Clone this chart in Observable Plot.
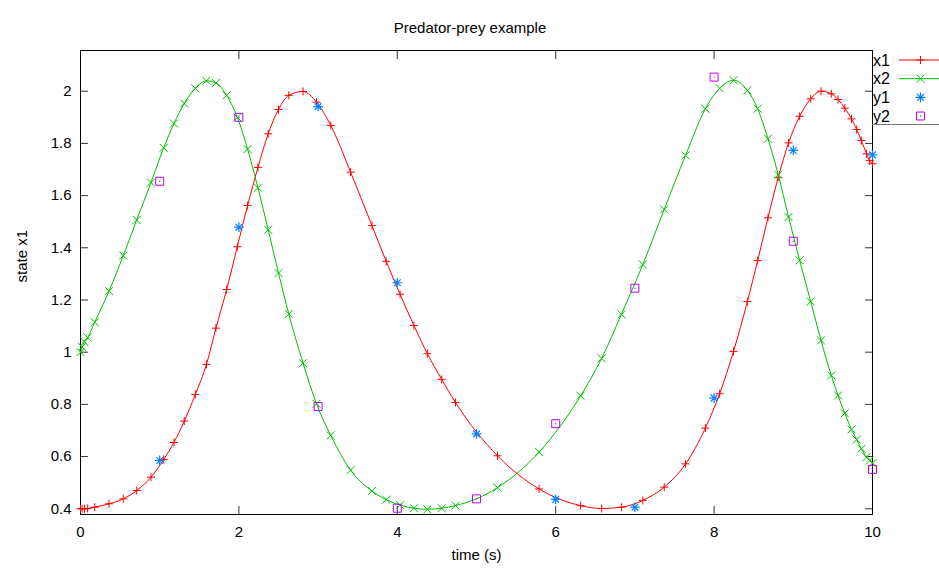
<!DOCTYPE html>
<html><head><meta charset="utf-8">
<script src="https://cdn.jsdelivr.net/npm/d3@7"></script>
<script src="https://cdn.jsdelivr.net/npm/@observablehq/plot@0.6"></script>
<style>
body{margin:0;background:#fff;}
#chart{position:relative;width:939px;height:568px;}
</style></head><body><div id="chart"></div>
<script>
const title = "Predator-prey example";
const xLabel = "time (s)";
const yLabel = "state x1";

const times = [0, 0.02, 0.05, 0.09, 0.18, 0.36, 0.54, 0.71, 0.89, 1.05, 1.18, 1.31, 1.45, 1.59, 1.71, 1.845, 1.98, 2.11, 2.24, 2.37, 2.50, 2.63, 2.81, 2.98, 3.16, 3.41, 3.68, 3.86, 4.035, 4.21, 4.38, 4.56, 4.735, 5.265, 5.79, 6.315, 6.58, 6.83, 7.10, 7.37, 7.64, 7.89, 8.07, 8.245, 8.42, 8.55, 8.68, 8.81, 8.94, 9.08, 9.22, 9.35, 9.48, 9.565, 9.65, 9.735, 9.80, 9.86, 9.925, 9.965, 10.0];
const x1 = [0.400, 0.400, 0.400, 0.401, 0.406, 0.419, 0.438, 0.470, 0.521, 0.589, 0.654, 0.736, 0.838, 0.953, 1.092, 1.240, 1.404, 1.562, 1.708, 1.837, 1.930, 1.984, 1.999, 1.958, 1.869, 1.690, 1.485, 1.348, 1.222, 1.102, 0.994, 0.896, 0.807, 0.603, 0.476, 0.412, 0.401, 0.406, 0.432, 0.483, 0.572, 0.709, 0.841, 1.003, 1.194, 1.351, 1.515, 1.670, 1.802, 1.904, 1.971, 2.000, 1.990, 1.968, 1.935, 1.894, 1.853, 1.811, 1.760, 1.734, 1.722];
const x2 = [1.000, 1.020, 1.040, 1.056, 1.115, 1.234, 1.370, 1.507, 1.650, 1.783, 1.876, 1.953, 2.011, 2.040, 2.032, 1.984, 1.900, 1.778, 1.630, 1.469, 1.303, 1.146, 0.958, 0.802, 0.681, 0.548, 0.468, 0.435, 0.414, 0.402, 0.398, 0.402, 0.412, 0.481, 0.617, 0.833, 0.976, 1.145, 1.336, 1.547, 1.754, 1.933, 2.011, 2.042, 2.003, 1.933, 1.818, 1.680, 1.518, 1.352, 1.194, 1.045, 0.911, 0.834, 0.766, 0.704, 0.665, 0.630, 0.598, 0.585, 0.575];

const obsTimes = [1, 2, 3, 4, 5, 6, 7, 8, 9, 10];
const y1 = [0.585, 1.479, 1.941, 1.266, 0.687, 0.436, 0.406, 0.824, 1.773, 1.756];
const y2 = [1.655, 1.900, 0.792, 0.402, 0.438, 0.726, 1.245, 2.054, 1.425, 0.551];

const xTicks = [0, 2, 4, 6, 8, 10];
const yTicks = [0.4, 0.6, 0.8, 1, 1.2, 1.4, 1.6, 1.8, 2];

const seriesNames = ["x1", "x2", "y1", "y2"];
const seriesColors = ["#ff0000", "#00c000", "#0080ff", "#c000ff"];

const lineData = times.map((t, i) => ({t, x1: x1[i], x2: x2[i]}));
const obsData = obsTimes.map((t, i) => ({t, y1: y1[i], y2: y2[i]}));

const R_PLUS = 2.7, R_TIMES = 3.7, R_SQUARE = 4.5;
const tickColor = "#333";

const plot = Plot.plot({
  width: 939, height: 568,
  marginLeft: 80, marginRight: 67, marginTop: 50, marginBottom: 54,
  style: {fontFamily: "'Liberation Sans', Arial, Helvetica, sans-serif", fontSize: "15px", color: "#000", background: "#fff", overflow: "visible"},
  x: {domain: [0, 10], axis: null},
  y: {domain: [0.378, 2.156], axis: null},
  marks: [
    // tick labels
    Plot.axisX(xTicks, {anchor: "bottom", tickSize: 0, tickPadding: 12, label: null, tickFormat: d => String(d), fontSize: 15}),
    Plot.axisY(yTicks, {anchor: "left", tickSize: 0, tickPadding: 9, label: null, tickFormat: d => String(d), fontSize: 15}),
    // inward ticks (mirrored)
    Plot.axisX(xTicks, {anchor: "bottom", tickSize: 8, dy: -8, label: null, tickFormat: () => "", stroke: tickColor}),
    Plot.axisX(xTicks, {anchor: "top", tickSize: 8, dy: 8, label: null, tickFormat: () => "", stroke: tickColor}),
    Plot.axisY(yTicks, {anchor: "left", tickSize: 8, dx: 8, label: null, tickFormat: () => "", stroke: tickColor}),
    Plot.axisY(yTicks, {anchor: "right", tickSize: 8, dx: -8, label: null, tickFormat: () => "", stroke: tickColor}),
    Plot.frame({stroke: "#000", strokeWidth: 1}),
    // series
    Plot.line(lineData, {x: "t", y: "x1", stroke: seriesColors[0], strokeWidth: 1, curve: "monotone-x"}),
    Plot.dot(lineData, {x: "t", y: "x1", symbol: "plus", r: R_PLUS, stroke: seriesColors[0], strokeWidth: 1}),
    Plot.line(lineData, {x: "t", y: "x2", stroke: seriesColors[1], strokeWidth: 1, curve: "monotone-x"}),
    Plot.dot(lineData, {x: "t", y: "x2", symbol: "times", r: R_TIMES, stroke: seriesColors[1], strokeWidth: 1}),
    Plot.dot(obsData, {x: "t", y: "y1", symbol: "plus", r: R_PLUS * 1.2, stroke: seriesColors[2], strokeWidth: 1.2}),
    Plot.dot(obsData, {x: "t", y: "y1", symbol: "times", r: R_TIMES * 0.85, stroke: seriesColors[2], strokeWidth: 1.2}),
    Plot.dot(obsData, {x: "t", y: "y2", symbol: "square", r: R_SQUARE, stroke: seriesColors[3], strokeWidth: 1, fill: "none"}),
    Plot.dot(obsData, {x: "t", y: "y2", r: 0.7, fill: seriesColors[3], stroke: null}),
    // title and axis labels
    Plot.text([title], {frameAnchor: "top", dy: -28, dx: -6.5, fontSize: 15}),
    Plot.text([xLabel], {frameAnchor: "bottom", dy: 45, fontSize: 15}),
    Plot.text([yLabel], {frameAnchor: "left", dx: -58, rotate: -90, fontSize: 15})
  ]
});
document.getElementById("chart").appendChild(plot);

// legend (key) at top right, outside the frame
const svg = d3.select(plot);
const key = svg.append("g")
  .attr("font-size", 16)
  .attr("font-family", "'Liberation Sans', Arial, sans-serif")
  .attr("text-anchor", "start");
const keyLeft = 872, keyTop = 50, rowH = 18.67, firstRow = 10;
const keySymbols = [
  [{type: d3.symbolPlus, r: R_PLUS}],
  [{type: d3.symbolTimes, r: R_TIMES}],
  [{type: d3.symbolPlus, r: R_PLUS * 1.2}, {type: d3.symbolTimes, r: R_TIMES * 0.85}],
  [{type: d3.symbolSquare, r: R_SQUARE}]
];
const keyHasLine = [true, true, false, false];
seriesNames.forEach((name, i) => {
  const cy = keyTop + firstRow + i * rowH;
  key.append("text").attr("x", keyLeft + 1).attr("y", cy).attr("dy", "0.35em")
    .attr("text-anchor", "start").attr("fill", "#000").text(name);
  if (keyHasLine[i]) {
    key.append("line").attr("x1", 899).attr("x2", 939).attr("y1", cy).attr("y2", cy)
      .attr("stroke", seriesColors[i]).attr("stroke-width", 1);
  }
  keySymbols[i].forEach(s => {
    key.append("path").attr("transform", `translate(920.5,${cy})`)
      .attr("d", d3.symbol().type(s.type).size(Math.PI * s.r * s.r)())
      .attr("fill", "none").attr("stroke", seriesColors[i]).attr("stroke-width", i === 2 ? 1.2 : 1);
  });
  if (i === 3) {
    key.append("circle").attr("cx", 920.5).attr("cy", cy).attr("r", 0.7).attr("fill", seriesColors[i]);
  }
});
key.append("line").attr("x1", keyLeft).attr("x2", 939).attr("y1", 124.5).attr("y2", 124.5)
  .attr("stroke", "#777").attr("stroke-width", 1.2);
</script>
</body></html>
